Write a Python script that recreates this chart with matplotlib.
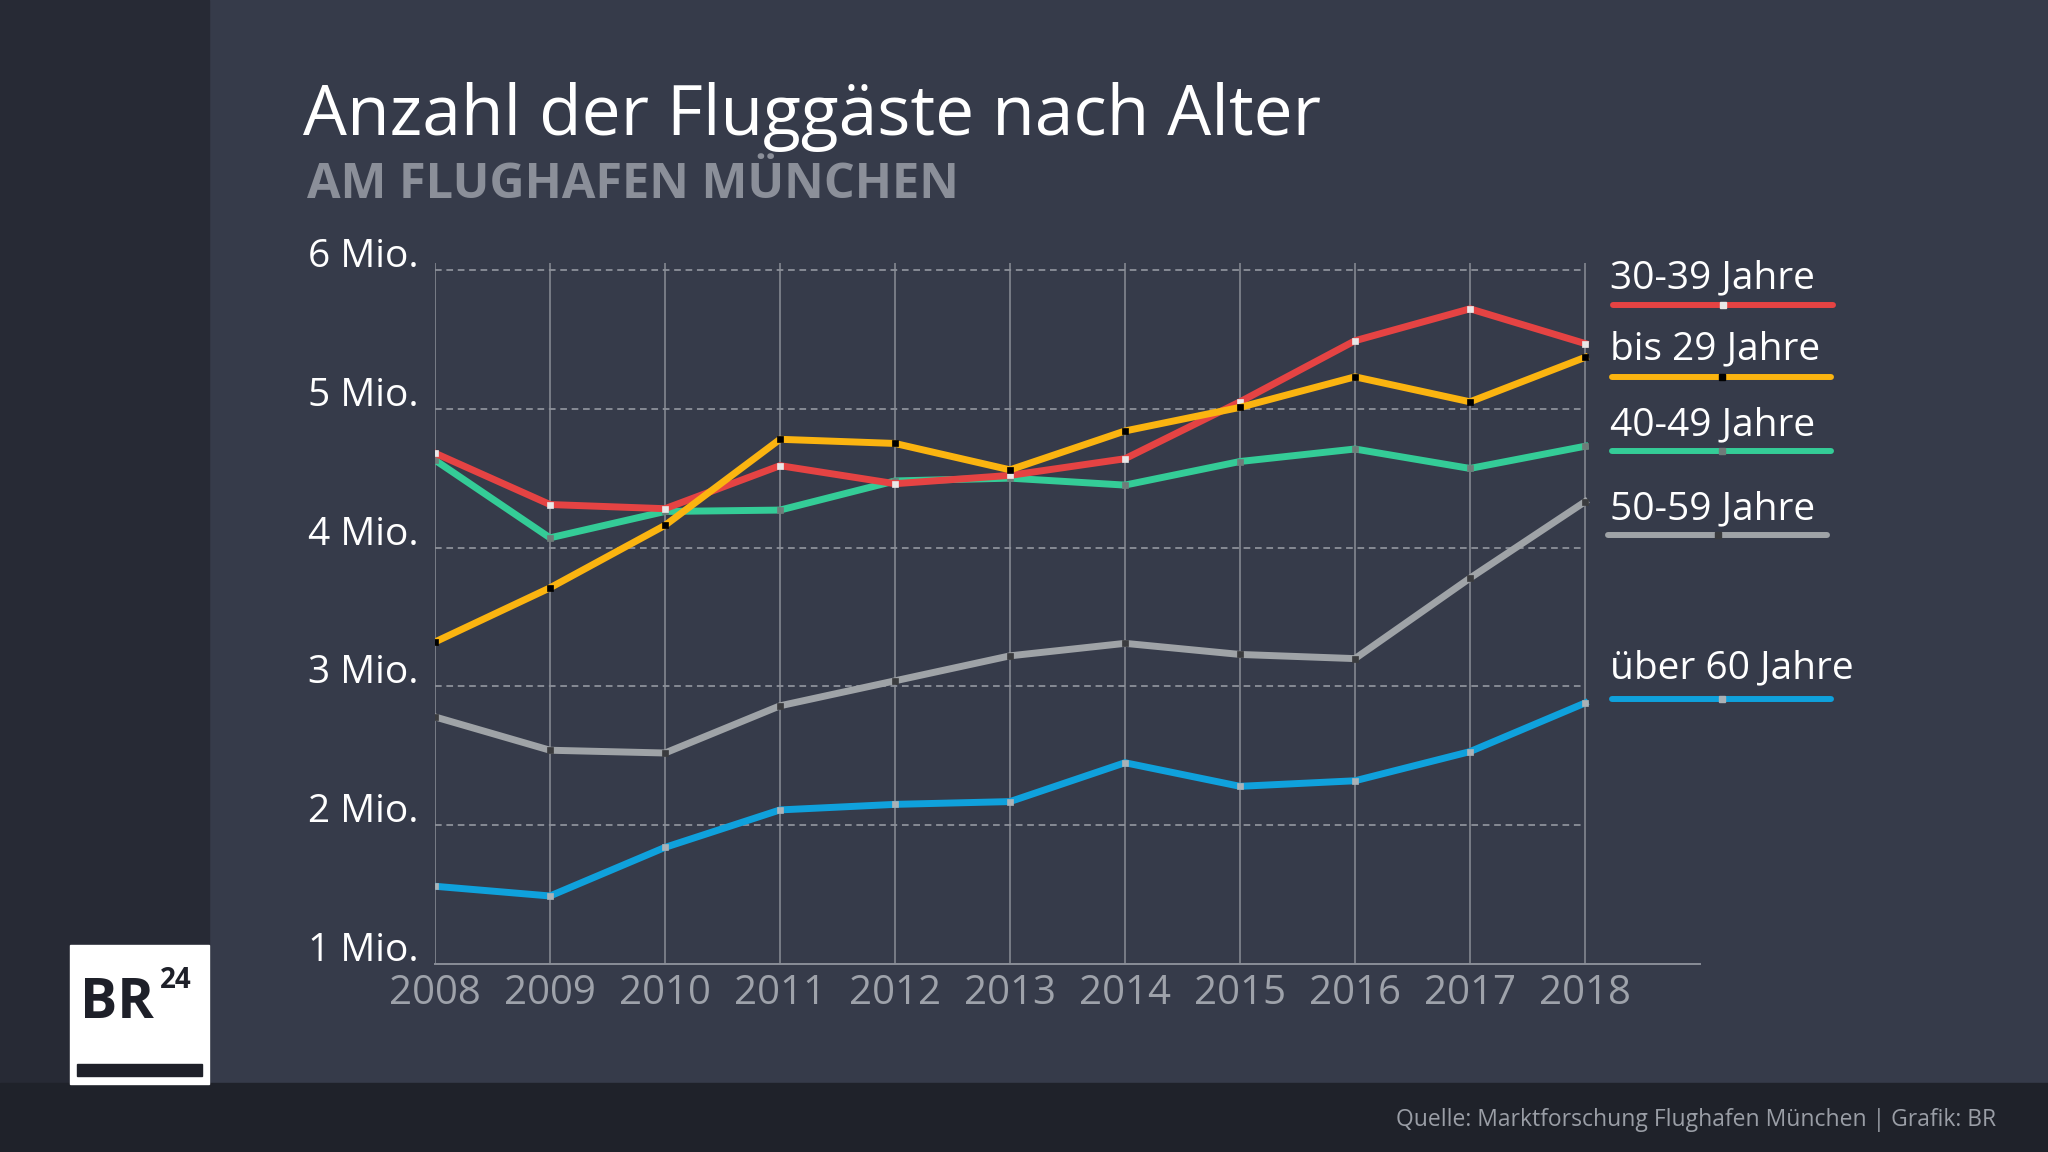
import matplotlib
matplotlib.use("Agg")
import matplotlib.pyplot as plt
import matplotlib.transforms as mtransforms
from matplotlib.lines import Line2D
from matplotlib.patches import Rectangle

# Fluggäste nach Alter, Flughafen München (Mio.)
years = list(range(2008, 2019))
age_30_39 = [4.68, 4.31, 4.28, 4.59, 4.46, 4.52, 4.64, 5.05, 5.49, 5.72, 5.47]
age_bis_29 = [3.32, 3.71, 4.16, 4.78, 4.75, 4.56, 4.84, 5.01, 5.23, 5.05, 5.37]
age_40_49 = [4.63, 4.07, 4.26, 4.27, 4.48, 4.50, 4.45, 4.62, 4.71, 4.57, 4.73]
age_50_59 = [2.78, 2.54, 2.52, 2.86, 3.04, 3.22, 3.31, 3.23, 3.20, 3.78, 4.33]
age_ueber_60 = [1.56, 1.49, 1.84, 2.11, 2.15, 2.17, 2.45, 2.28, 2.32, 2.53, 2.88]

labels = ["30-39 Jahre", "bis 29 Jahre", "40-49 Jahre", "50-59 Jahre", "über 60 Jahre"]
y_ticks = [1, 2, 3, 4, 5, 6]
y_tick_labels = ["1 Mio.", "2 Mio.", "3 Mio.", "4 Mio.", "5 Mio.", "6 Mio."]

title = "Anzahl der Fluggäste nach Alter"
subtitle = "AM FLUGHAFEN MÜNCHEN"
source = "Quelle: Marktforschung Flughafen München | Grafik: BR"

# styles
BG = "#363b4a"
STRIP = "#272a35"
BOTTOM = "#1f222a"
colors = ["#e54343", "#fbb410", "#34cc97", "#9fa3a7", "#0fa1dc"]
marker_colors = ["#e8e8e8", "#000000", "#6f7b79", "#3a3b3e", "#aab1b6"]
zorders = [6, 7, 5, 4, 3]

# legend rows, figure pixels (top-left origin)
leg_text_y = [288, 359, 435, 519, 678]
leg_line_y = [305, 377, 451, 535, 699]
leg_x0 = [1613, 1612, 1612, 1608, 1612]
leg_x1 = [1833, 1831, 1831, 1827, 1831]

W, H = 2048, 1152
plt.rcParams["font.family"] = ["Open Sans", "DejaVu Sans"]
plt.rcParams["lines.scale_dashes"] = False


def fx(px):
    return px / W


def fy(py):
    return 1 - py / H


fig = plt.figure(figsize=(W / 100, H / 100), dpi=100)
fig.patch.set_facecolor(BG)

# background panels
fig.add_artist(Rectangle((0, 0), fx(209), 1, transform=fig.transFigure,
                         color=STRIP, zorder=0))
fig.add_artist(Rectangle((0, 0), 1, fy(1083), transform=fig.transFigure,
                         color=BOTTOM, zorder=0))

ax = fig.add_axes([fx(435), fy(964), fx(1700) - fx(435), fy(263) - fy(964)])
ax.set_facecolor("none")
ax.set_xlim(2008, 2019)
ax.set_ylim(1, 6.05)

for s in ["top", "right", "left"]:
    ax.spines[s].set_visible(False)
ax.spines["bottom"].set_color("#8a8e98")
ax.spines["bottom"].set_linewidth(1.4)

ax.vlines(years, 1, 6.05, color="#7d818b", lw=1.3, zorder=1)
ax.hlines(y_ticks[1:], years[0], years[-1], color="#8d919a", lw=1.3,
          linestyles=(0, (4.8, 3.4)), zorder=1)

series = [age_30_39, age_bis_29, age_40_49, age_50_59, age_ueber_60]
for vals, c, mc, z in zip(series, colors, marker_colors, zorders):
    ax.plot(years, vals, color=c, lw=5, zorder=z, solid_joinstyle="miter",
            marker="s", ms=4.5, mfc=mc, mec=mc, mew=0.5)

ax.set_xticks(years, labels=[str(y) for y in years])
ax.tick_params(axis="x", length=0, pad=7, labelsize=29, labelcolor="#9ea2aa")
ax.set_yticks([])

ytrans = mtransforms.blended_transform_factory(fig.transFigure, ax.transData)
ytrans = mtransforms.offset_copy(ytrans, fig=fig, y=3, units="dots")
for v, lab in zip(y_ticks, y_tick_labels):
    ax.text(fx(308), v, lab, transform=ytrans, ha="left", va="baseline",
            fontsize=28, color="white", clip_on=False)

# legend on the right
for i, lab in enumerate(labels):
    fig.text(fx(1610), fy(leg_text_y[i]), lab, ha="left", va="baseline",
             fontsize=28, color="white")
    fig.add_artist(Line2D([fx(leg_x0[i]), fx(leg_x1[i])],
                          [fy(leg_line_y[i]), fy(leg_line_y[i])],
                          transform=fig.transFigure, color=colors[i], lw=4.3,
                          solid_capstyle="round"))
    xm = (leg_x0[i] + leg_x1[i]) / 2
    fig.add_artist(Line2D([fx(xm)], [fy(leg_line_y[i])],
                          transform=fig.transFigure, marker="s", ms=5,
                          mfc=marker_colors[i], mec=marker_colors[i],
                          linestyle="none"))

# titles
fig.text(fx(303), fy(135), title, ha="left", va="baseline",
         fontsize=50, color="white")
fig.text(fx(307), fy(198), subtitle, ha="left", va="baseline",
         fontsize=35, fontweight="bold", color="#8b8f99")

# footer
fig.text(fx(1996), fy(1126), source, ha="right", va="baseline",
         fontsize=16.5, color="#9a9ea6")

# BR24 logo
fig.add_artist(Rectangle((fx(70), fy(1084)), fx(209) - fx(70), fy(945) - fy(1084),
                         transform=fig.transFigure, color="white", zorder=2))
fig.add_artist(Rectangle((fx(77), fy(1076)), fx(202) - fx(77), fy(1064) - fy(1076),
                         transform=fig.transFigure, color="#1e2029", zorder=3))
fig.text(fx(80), fy(1018), "BR", ha="left", va="baseline", fontsize=40,
         fontweight="bold", color="#1e2029", zorder=4)
fig.text(fx(160), fy(988), "24", ha="left", va="baseline", fontsize=20,
         fontweight="bold", color="#1e2029", zorder=4)

fig.savefig("out.png", dpi=100, facecolor=fig.get_facecolor())
